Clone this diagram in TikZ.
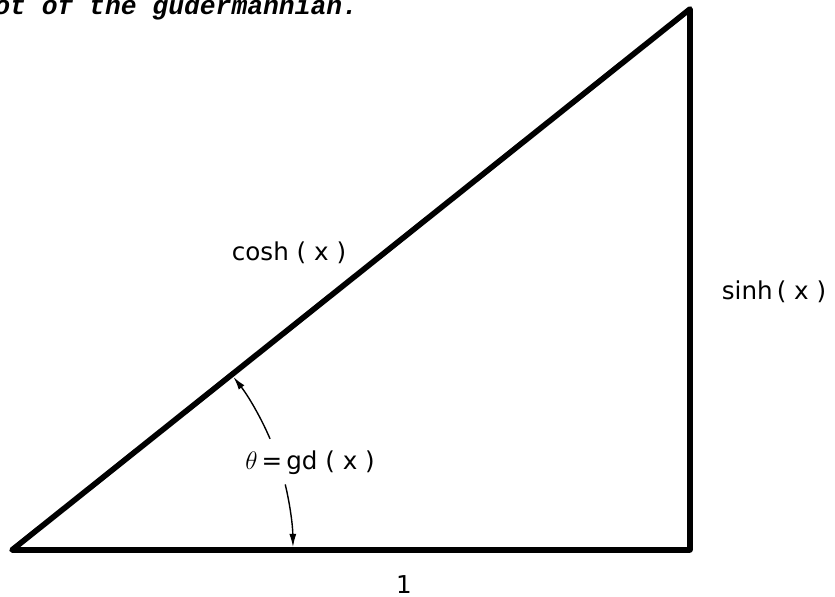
\documentclass[tikz,border=0pt]{standalone}
\usepackage{fontspec}
\setsansfont{DejaVu Sans}
\newfontfamily\capfont{Liberation Mono}
\usetikzlibrary{arrows.meta}

\begin{document}
\begin{tikzpicture}[x=0.02cm,y=0.02cm,font=\sffamily\fontsize{14}{17}\selectfont,
  side/.style={line width=3.2pt,line join=round},
  gdarrow/.style={line width=0.8pt,-{Latex[length=7.5pt,width=4pt]}},
  lbl/.style={inner sep=0pt}]
\useasboundingbox (0,0) rectangle (835,597);
\node[lbl,anchor=base west,font=\capfont\bfseries\itshape\fontsize{15}{18}\selectfont] (title) at (-6,582) {ot of the gudermannian.};
% the triangle
\coordinate (A) at (12,47); \coordinate (B) at (690,47); \coordinate (C) at (690,588);
\draw[side] (A) -- (B) -- (C) -- cycle;
\node[lbl] (cosh) at (289,344) {cosh ( x )};
\node[lbl] (sinh) at (774,305) {sinh\,( x )};
\node[lbl] (one) at (404,12) {1};
\node[lbl] (gd) at (310,134) {$\theta$\,=\,gd ( x )};
% angle arrows
\draw[gdarrow] (A) ++(23.3:281) arc[start angle=23.3,end angle=38.0,radius=281];
\draw[gdarrow] (A) ++(13.5:281) arc[start angle=13.5,end angle=0.6,radius=281];
\end{tikzpicture}
\end{document}
